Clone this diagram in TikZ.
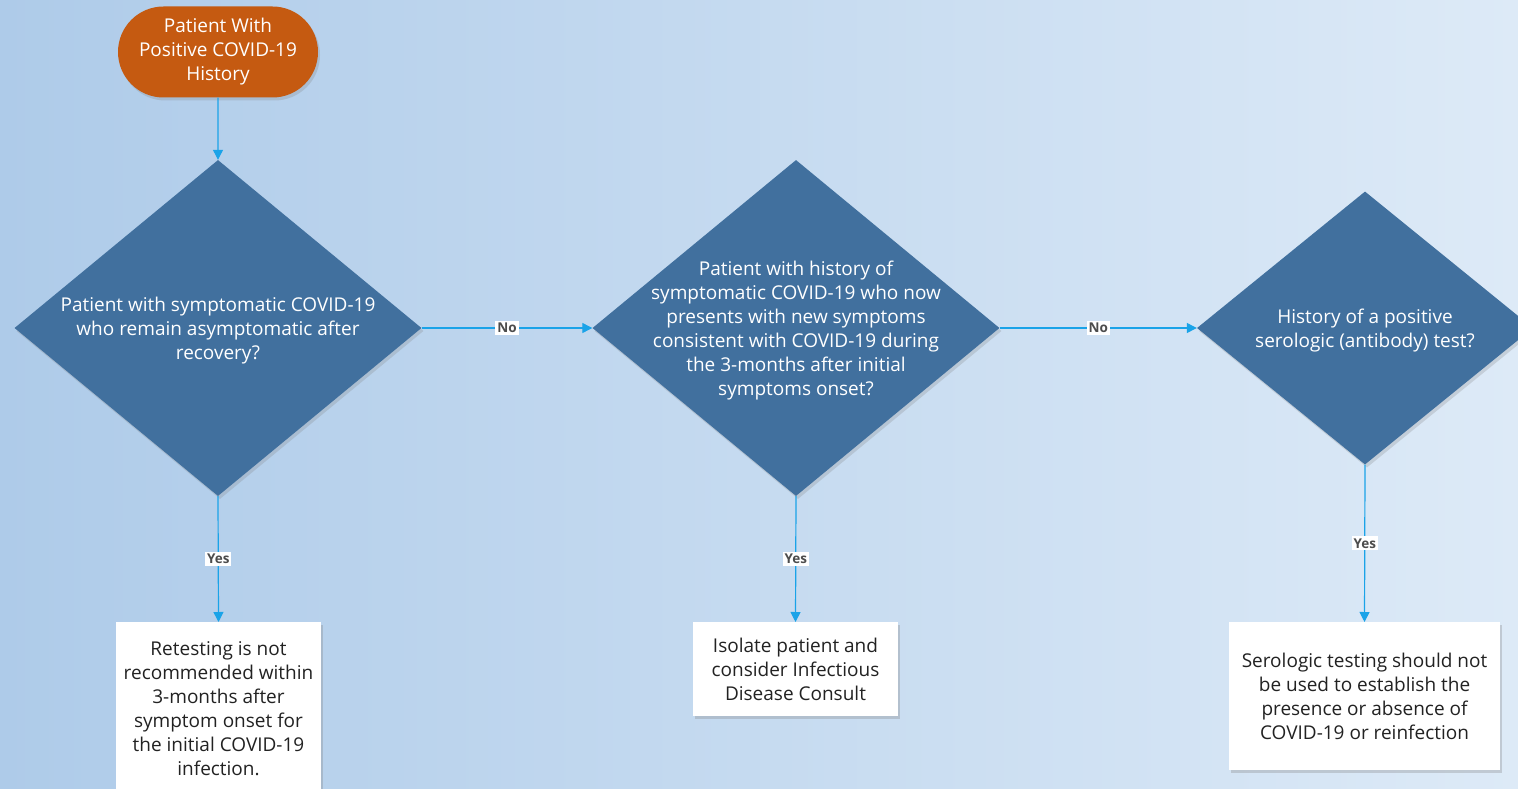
\documentclass[tikz,border=0pt]{standalone}
\usepackage{fontspec}
\setmainfont{Open Sans}
\usetikzlibrary{shapes.geometric,shapes.misc,shadows,arrows.meta}
\definecolor{bgL}{HTML}{AECBE9}
\definecolor{bgR}{HTML}{DDEAF7}
\definecolor{dia}{HTML}{41709E}
\definecolor{term}{HTML}{C55A11}
\definecolor{arr}{HTML}{1AA3E8}
\definecolor{txt}{HTML}{222222}
\tikzset{
  decision/.style={diamond, fill=dia, inner sep=0pt,
    drop shadow={shadow xshift=2pt, shadow yshift=-3pt, opacity=0.25}},
  dtext/.style={text=white, align=center, inner sep=0pt, yshift=-2.5pt,
    font=\fontsize{19}{24}\selectfont},
  terminal/.style={rounded rectangle, fill=term, text=white, align=center,
    minimum width=200pt, minimum height=91pt, inner sep=0pt,
    font=\fontsize{19}{24}\selectfont,
    drop shadow={shadow xshift=2pt, shadow yshift=-3pt, opacity=0.25}},
  outbox/.style={rectangle, fill=white, text=txt, align=center, inner sep=0pt,
    font=\fontsize{19}{24}\selectfont,
    drop shadow={shadow xshift=2pt, shadow yshift=-3pt, opacity=0.3}},
  conn/.style={draw=arr, line width=1.2pt, -{Triangle[length=10pt,width=10pt]}},
  lab/.style={fill=white, text=black!70, inner sep=2pt, font=\fontsize{13.5}{14}\selectfont\bfseries},
}
\begin{document}
\begin{tikzpicture}[x=1pt,y=-1pt]
\useasboundingbox (0,0) rectangle (1518,789);
\clip (0,0) rectangle (1518,789);
\shade[left color=bgL, right color=bgR] (0,0) rectangle (1518,789);

\node[terminal] (start) at (218,52) {Patient With\\Positive COVID-19\\History};

\node[decision, minimum width=407pt, minimum height=336pt] (d1) at (218,328) {};
\node[dtext] (t1) at (d1.center)
  {Patient with symptomatic COVID-19\\who remain asymptomatic after\\recovery?};
\node[decision, minimum width=407pt, minimum height=336pt] (d2) at (796,328) {};
\node[dtext] (t2) at (d2.center)
  {Patient with history of\\symptomatic COVID-19 who now\\presents with new symptoms\\consistent with COVID-19 during\\the 3-months after initial\\symptoms onset?};
\node[decision, minimum width=336pt, minimum height=273pt] (d3) at (1365,328) {};
\node[dtext] (t3) at (d3.center)
  {History of a positive\\serologic (antibody) test?};

\node[outbox, minimum width=205pt, minimum height=172pt, anchor=north] (r1) at (218.5,622)
  {Retesting is not\\recommended within\\3-months after\\symptom onset for\\the initial COVID-19\\infection.};
\node[outbox, minimum width=205pt, minimum height=94pt, anchor=north] (r2) at (795.5,622)
  {Isolate patient and\\consider Infectious\\Disease Consult};
\node[outbox, minimum width=271pt, minimum height=148pt, anchor=north] (r3) at (1364.5,622)
  {Serologic testing should not\\be used to establish the\\presence or absence of\\COVID-19 or reinfection};

\draw[conn] (start) -- (d1.north);
\draw[conn] (d1.east) -- node[lab]{No} (d2.west);
\draw[conn] (d2.east) -- node[lab]{No} (d3.west);
\draw[conn] (d1.south) -- node[lab, pos=0.5]{Yes} (r1.north);
\draw[conn] (d2.south) -- node[lab, pos=0.5]{Yes} (r2.north);
\draw[conn] (d3.south) -- node[lab, pos=0.5]{Yes} (r3.north);
\end{tikzpicture}
\end{document}
